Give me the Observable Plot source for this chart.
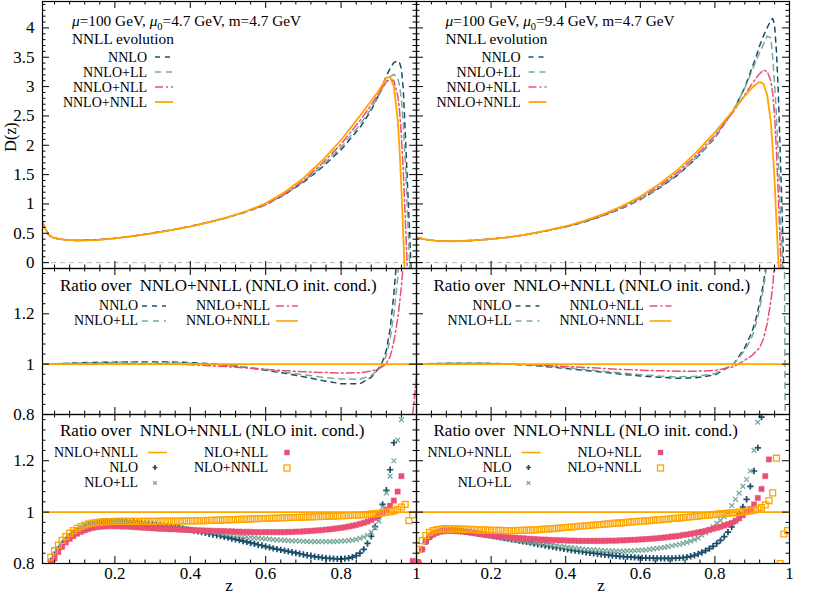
<!DOCTYPE html>
<html><head><meta charset="utf-8">
<script src="https://cdn.jsdelivr.net/npm/d3@7"></script>
<script src="https://cdn.jsdelivr.net/npm/@observablehq/plot@0.6"></script>
<style>
body{margin:0;background:#fff}
#fig{position:relative;width:830px;height:594px;background:#fff;overflow:hidden}
#fig svg{position:absolute;left:0;top:0}
</style></head><body><div id="fig"></div>
<script>
// ---------- DATA ----------
// Top / middle rows: z grids
const ztL = [0.008,0.017,0.025,0.035,0.05,0.07,0.1,0.15,0.2,0.25,0.3,0.35,0.4,0.45,0.5,0.55,0.6,0.65,0.7,0.75,0.8,0.85,0.88,0.9,0.91,0.92,0.93,0.94,0.95,0.955,0.96,0.965,0.97,0.975,0.98,0.985,0.99,1.0];
const ztR = [0,0.01,0.02,0.035,0.05,0.07,0.1,0.15,0.2,0.25,0.3,0.35,0.4,0.45,0.5,0.55,0.6,0.65,0.7,0.75,0.8,0.85,0.88,0.9,0.91,0.92,0.93,0.94,0.95,0.955,0.96,0.965,0.97,0.975,0.98,0.985,0.99,1.0];

// D(z), mu0 = 4.7 GeV
const dL_NNLO      = [0.69,0.56,0.47,0.43,0.406,0.388,0.379,0.388,0.415,0.456,0.505,0.558,0.619,0.692,0.772,0.869,0.986,1.157,1.368,1.627,1.925,2.3,2.6,2.86,3.02,3.18,3.31,3.41,3.44,3.41,3.3,2.95,2.25,1.5,0.75,0.02,-0.8,-1.5];
const dL_NNLO_LL   = [0.69,0.56,0.47,0.43,0.406,0.388,0.379,0.388,0.415,0.455,0.504,0.557,0.618,0.691,0.772,0.87,0.99,1.165,1.38,1.65,1.965,2.35,2.63,2.85,2.97,3.08,3.17,3.21,3.15,3.02,2.78,2.35,1.75,1.0,0.25,-0.6,-1.2,-1.5];
const dL_NNLO_NLL  = [0.69,0.56,0.47,0.43,0.405,0.387,0.378,0.386,0.413,0.453,0.501,0.554,0.616,0.689,0.772,0.873,0.99,1.17,1.4,1.69,2.02,2.42,2.69,2.88,2.99,3.08,3.13,3.1,2.85,2.6,2.15,1.55,0.8,0.0,-0.7,-1.5,-1.5,-1.5];
const dL_NNLO_NNLL = [0.69,0.56,0.47,0.43,0.405,0.387,0.377,0.385,0.412,0.452,0.5,0.553,0.615,0.69,0.775,0.88,1.01,1.2,1.44,1.74,2.09,2.5,2.76,2.93,3.04,3.15,3.16,3.0,2.45,1.95,1.25,0.45,-0.4,-1,-1.5,-1.5,-1.5,-1.5];

// D(z), mu0 = 9.4 GeV
const dR_NNLO      = [0.43,0.415,0.4,0.386,0.375,0.367,0.365,0.379,0.401,0.435,0.483,0.543,0.61,0.693,0.799,0.922,1.072,1.265,1.492,1.778,2.125,2.6,2.98,3.33,3.5,3.7,3.86,4.0,4.13,4.16,4.05,3.6,2.9,1.9,0.9,-0.2,-1,-1.5];
const dR_NNLO_LL   = [0.43,0.415,0.4,0.386,0.375,0.367,0.365,0.379,0.401,0.435,0.484,0.544,0.611,0.695,0.802,0.926,1.078,1.272,1.501,1.79,2.136,2.6,2.97,3.28,3.43,3.58,3.72,3.86,3.83,3.5,3.05,2.5,1.8,1.0,0.2,-0.6,-1.2,-1.5];
const dR_NNLO_NLL  = [0.43,0.415,0.4,0.386,0.375,0.367,0.365,0.379,0.401,0.435,0.484,0.545,0.615,0.7,0.811,0.94,1.098,1.3,1.536,1.827,2.165,2.575,2.86,3.05,3.14,3.22,3.28,3.26,3.1,2.88,2.5,1.9,1.15,0.3,-0.6,-1.2,-1.5,-1.5];
const dR_NNLO_NNLL = [0.43,0.415,0.4,0.385,0.374,0.366,0.364,0.378,0.4,0.435,0.485,0.548,0.62,0.71,0.825,0.96,1.125,1.335,1.58,1.88,2.22,2.6,2.84,2.98,3.04,3.08,3.05,2.86,2.4,1.95,1.4,0.7,0.05,-0.6,-1.2,-1.5,-1.5,-1.5];

// Ratio over NNLO+NNLL (NNLO init. cond.)
const rL_NNLO     = [1.0,1.0,1.0,1.001,1.002,1.003,1.005,1.007,1.008,1.009,1.01,1.009,1.006,1.002,0.996,0.987,0.976,0.964,0.95,0.935,0.922,0.922,0.948,0.985,1.01,1.055,1.14,1.28,1.46,1.6,1.8,2.2,3,3,3,3,3,3];
const rL_NNLO_LL  = [1.0,1.0,1.0,1.001,1.002,1.003,1.004,1.006,1.007,1.008,1.008,1.007,1.004,1.0,0.995,0.988,0.979,0.968,0.958,0.948,0.941,0.94,0.955,0.98,1.0,1.035,1.1,1.2,1.34,1.45,1.6,1.9,3,3,3,3,3,3];
const rL_NNLO_NLL = [1.0,1.0,1.0,1.0,1.0,1.001,1.001,1.002,1.002,1.002,1.002,1.001,0.998,0.994,0.99,0.985,0.979,0.974,0.97,0.967,0.965,0.966,0.972,0.982,0.99,1.003,1.03,1.09,1.18,1.24,1.31,1.4,1.6,2,3,null,0.8,0.95];
const rR_NNLO     = [1.0,1.0,1.001,1.002,1.003,1.003,1.004,1.004,1.003,1.0,0.996,0.99,0.983,0.975,0.968,0.96,0.953,0.948,0.944,0.946,0.957,1.0,1.065,1.13,1.18,1.245,1.32,1.42,1.6,1.8,2.2,3,3,3,3,3,3,3];
const rR_NNLO_LL  = [1.0,1.0,1.001,1.002,1.003,1.003,1.004,1.004,1.003,1.001,0.997,0.992,0.986,0.979,0.972,0.965,0.958,0.953,0.95,0.952,0.962,1.0,1.055,1.11,1.16,1.22,1.3,1.4,1.6,1.9,2.5,4,8,5,5,1.9,0.3,0.3];
const rR_NNLO_NLL = [1.0,1.0,1.0,1.001,1.001,1.002,1.002,1.002,1.002,1.0,0.998,0.995,0.991,0.987,0.983,0.979,0.976,0.974,0.972,0.972,0.975,0.99,1.015,1.035,1.05,1.065,1.1,1.16,1.25,1.31,1.4,1.6,2,3,3,3,3,3];

// Ratio over NNLO+NNLL (NLO init. cond.) — point series
const zPL = [0.03,0.04,0.05,0.06,0.07,0.08,0.09,0.10,0.11,0.12,
 0.13,0.14,0.15,0.16,0.17,0.18,0.19,0.20,0.21,0.22,
 0.23,0.24,0.25,0.26,0.27,0.28,0.29,0.30,0.31,0.32,
 0.33,0.34,0.35,0.36,0.37,0.38,0.39,0.40,0.41,0.42,
 0.43,0.44,0.45,0.46,0.47,0.48,0.49,0.50,0.51,0.52,
 0.53,0.54,0.55,0.56,0.57,0.58,0.59,0.60,0.61,0.62,
 0.63,0.64,0.65,0.66,0.67,0.68,0.69,0.70,0.71,0.72,
 0.73,0.74,0.75,0.76,0.77,0.78,0.79,0.80,0.81,0.82,
 0.83,0.84,0.85,0.86,0.87,0.88,0.89,0.90,0.91,0.92,
 0.93,0.94,0.95,0.96,0.97,0.98,0.99];
const bL_NLO = [0.81,0.835,0.857,0.876,0.892,0.906,0.918,0.928,0.936,0.943,
 0.949,0.954,0.958,0.961,0.963,0.964,0.965,0.965,0.965,0.964,
 0.963,0.962,0.961,0.96,0.958,0.956,0.955,0.953,0.951,0.949,
 0.947,0.945,0.943,0.94,0.938,0.936,0.933,0.931,0.928,0.925,
 0.922,0.919,0.916,0.913,0.91,0.907,0.904,0.901,0.897,0.894,
 0.891,0.887,0.884,0.88,0.877,0.873,0.87,0.866,0.863,0.859,
 0.856,0.853,0.85,0.847,0.844,0.841,0.838,0.835,0.832,0.83,
 0.827,0.825,0.823,0.821,0.82,0.819,0.818,0.818,0.819,0.821,
 0.825,0.831,0.84,0.855,0.878,0.906,0.943,0.985,1.03,1.085,
 1.165,1.27,1.42,1.7,2.2,3,0.5];
const bL_NLO_LL = [0.81,0.835,0.857,0.876,0.892,0.906,0.918,0.928,0.936,0.943,
 0.949,0.953,0.957,0.96,0.961,0.962,0.962,0.962,0.962,0.961,
 0.96,0.959,0.958,0.957,0.955,0.954,0.952,0.951,0.949,0.947,
 0.946,0.944,0.942,0.941,0.939,0.937,0.935,0.933,0.931,0.929,
 0.927,0.925,0.923,0.921,0.919,0.917,0.915,0.913,0.911,0.909,
 0.907,0.905,0.904,0.902,0.9,0.899,0.897,0.896,0.895,0.893,
 0.892,0.891,0.89,0.889,0.888,0.888,0.887,0.886,0.886,0.885,
 0.885,0.885,0.885,0.885,0.885,0.885,0.886,0.887,0.888,0.889,
 0.891,0.894,0.898,0.903,0.91,0.922,0.94,0.965,1.02,1.075,
 1.14,1.2,1.28,1.36,1.6,2.2,0.5];
const bL_NLO_NLL = [0.805,0.82,0.845,0.865,0.882,0.896,0.907,0.916,0.923,0.929,
 0.934,0.938,0.941,0.943,0.944,0.945,0.945,0.945,0.945,0.944,
 0.944,0.943,0.942,0.941,0.94,0.939,0.938,0.937,0.936,0.935,
 0.935,0.934,0.933,0.933,0.932,0.931,0.931,0.93,0.93,0.929,
 0.929,0.928,0.928,0.927,0.927,0.926,0.926,0.925,0.925,0.924,
 0.924,0.923,0.923,0.923,0.922,0.922,0.922,0.922,0.922,0.922,
 0.922,0.922,0.922,0.923,0.923,0.924,0.924,0.925,0.926,0.927,
 0.928,0.929,0.93,0.932,0.933,0.935,0.937,0.939,0.941,0.944,
 0.947,0.95,0.954,0.958,0.963,0.969,0.977,0.987,0.998,1.01,
 1.025,1.045,1.08,1.14,1.45,2.0,0.81];
const bL_NLO_NNLL = [0.825,0.85,0.872,0.89,0.905,0.918,0.928,0.937,0.944,0.95,
 0.954,0.957,0.959,0.961,0.962,0.963,0.963,0.964,0.964,0.964,
 0.964,0.964,0.964,0.964,0.964,0.964,0.964,0.964,0.964,0.965,
 0.965,0.965,0.965,0.965,0.965,0.966,0.966,0.966,0.966,0.967,
 0.967,0.967,0.968,0.968,0.969,0.969,0.97,0.97,0.971,0.971,
 0.972,0.972,0.973,0.973,0.974,0.974,0.975,0.975,0.976,0.976,
 0.977,0.977,0.978,0.978,0.979,0.979,0.98,0.98,0.981,0.981,
 0.982,0.982,0.983,0.983,0.984,0.984,0.985,0.986,0.986,0.987,
 0.988,0.988,0.989,0.99,0.991,0.992,0.994,0.995,0.997,1.0,
 1.002,1.005,1.01,1.02,1.03,0.967,0.99];

const zPR = [0.005,0.015,0.025,0.035,0.045,0.055,0.065,0.075,0.085,0.095,
 0.105,0.115,0.125,0.135,0.145,0.155,0.165,0.175,0.185,0.195,
 0.205,0.215,0.225,0.235,0.245,0.255,0.265,0.275,0.285,0.295,
 0.305,0.315,0.325,0.335,0.345,0.355,0.365,0.375,0.385,0.395,
 0.405,0.415,0.425,0.435,0.445,0.455,0.465,0.475,0.485,0.495,
 0.505,0.515,0.525,0.535,0.545,0.555,0.565,0.575,0.585,0.595,
 0.605,0.615,0.625,0.635,0.645,0.655,0.665,0.675,0.685,0.695,
 0.705,0.715,0.725,0.735,0.745,0.755,0.765,0.775,0.785,0.795,
 0.805,0.815,0.825,0.835,0.845,0.855,0.865,0.875,0.885,0.895,
 0.905,0.915,0.925,0.935,0.945,0.955,0.965,0.975,0.985,0.995];
const bR_NLO = [0.805,0.855,0.885,0.903,0.914,0.921,0.926,0.929,0.93,0.93,
 0.929,0.928,0.926,0.924,0.922,0.92,0.917,0.915,0.912,0.91,
 0.907,0.905,0.902,0.9,0.897,0.894,0.892,0.889,0.886,0.884,
 0.881,0.878,0.875,0.873,0.87,0.867,0.865,0.862,0.86,0.857,
 0.855,0.852,0.85,0.848,0.846,0.844,0.842,0.84,0.838,0.836,
 0.834,0.833,0.831,0.83,0.828,0.827,0.826,0.825,0.824,0.823,
 0.822,0.822,0.821,0.821,0.82,0.82,0.82,0.82,0.82,0.821,
 0.822,0.823,0.825,0.828,0.832,0.837,0.843,0.85,0.858,0.867,
 0.878,0.89,0.905,0.922,0.942,0.965,0.993,1.02,1.05,1.1,
 1.16,1.25,1.37,1.6,2,2.5,3,0.5,0.5,0.5];
const bR_NLO_LL = [0.805,0.855,0.885,0.903,0.914,0.921,0.926,0.929,0.93,0.93,
 0.929,0.927,0.925,0.923,0.921,0.918,0.916,0.913,0.911,0.908,
 0.906,0.903,0.901,0.898,0.896,0.894,0.891,0.889,0.887,0.885,
 0.883,0.881,0.879,0.877,0.875,0.873,0.871,0.869,0.867,0.865,
 0.863,0.862,0.86,0.858,0.856,0.855,0.854,0.853,0.852,0.851,
 0.85,0.849,0.849,0.848,0.848,0.848,0.849,0.849,0.85,0.851,
 0.852,0.853,0.855,0.857,0.859,0.861,0.863,0.866,0.869,0.872,
 0.875,0.878,0.882,0.887,0.893,0.9,0.91,0.92,0.932,0.944,
 0.956,0.968,0.982,1.0,1.025,1.05,1.074,1.1,1.127,1.16,
 1.24,1.35,1.5,1.8,2.2,2.5,3,3,0.5,0.5];
const bR_NLO_NLL = [0.805,0.855,0.885,0.903,0.913,0.92,0.924,0.926,0.927,0.927,
 0.926,0.925,0.924,0.922,0.92,0.918,0.916,0.914,0.912,0.91,
 0.909,0.907,0.905,0.904,0.902,0.901,0.9,0.899,0.898,0.897,
 0.896,0.895,0.894,0.893,0.893,0.892,0.891,0.891,0.89,0.89,
 0.889,0.889,0.889,0.888,0.888,0.888,0.888,0.888,0.888,0.888,
 0.888,0.889,0.889,0.889,0.89,0.89,0.891,0.892,0.892,0.893,
 0.894,0.895,0.896,0.897,0.898,0.9,0.901,0.903,0.905,0.906,
 0.908,0.911,0.913,0.915,0.918,0.921,0.924,0.927,0.931,0.935,
 0.939,0.943,0.948,0.953,0.958,0.966,0.976,0.988,1.0,1.012,
 1.03,1.055,1.09,1.14,1.205,1.45,1.8,2.2,0.6,0.7];
const bR_NLO_NNLL = [0.855,0.889,0.909,0.921,0.928,0.932,0.934,0.935,0.935,0.935,
 0.935,0.934,0.934,0.933,0.933,0.932,0.931,0.931,0.93,0.93,
 0.929,0.929,0.929,0.928,0.928,0.928,0.928,0.929,0.929,0.93,
 0.93,0.931,0.932,0.933,0.934,0.935,0.936,0.937,0.938,0.94,
 0.941,0.942,0.943,0.945,0.946,0.947,0.948,0.95,0.951,0.952,
 0.953,0.954,0.956,0.957,0.958,0.959,0.96,0.962,0.963,0.964,
 0.965,0.966,0.967,0.969,0.97,0.971,0.972,0.973,0.975,0.976,
 0.977,0.978,0.98,0.981,0.983,0.984,0.986,0.987,0.989,0.99,
 0.992,0.993,0.994,0.996,0.997,0.998,1.0,1.001,1.003,1.005,
 1.008,1.012,1.018,1.028,1.045,1.075,1.21,0.8,0.915,0.928];

// Tick labels
const yTicksTop = [0,0.5,1,1.5,2,2.5,3,3.5,4];
const yTicksRatio = [0.8,1,1.2];
const xTicks = [0,0.2,0.4,0.6,0.8,1];
const xTickLabels = [0.2,0.4,0.6,0.8,1];

// ---------- STYLE / LAYOUT ----------
const FONT = '"Liberation Serif","Times New Roman",serif';
const C = {nnlo:"#1b4d6b", ll:"#7aa99a", nll:"#ea4f74", nnll:"#ffa500"};
const DASH = {nnlo:"5,5", ll:"6,5", nll:"8,3,2,3", nnll:null};
const W = 830, H = 594;
const LX = [42,416], RX = [416,789];
const TY = [1,268], MY = [268,414], BY = [414,563];
const xdL = [0.008,1], xdR = [0,1];
const ydT = [-0.1,4.45], ydR = [0.8,1.38];

const fig = document.getElementById("fig");
const zip = (zs, vs) => zs.map((z,i) => ({z, v: vs[i]}));
const notMult = (v, s) => Math.abs(v/s - Math.round(v/s)) > 1e-6;
const yMinorTop = d3.range(-0.1, 4.46, 0.1).map(v => +v.toFixed(3)).filter(v => notMult(v, 0.5));
const yMinorRatio = d3.range(0.8, 1.39, 0.04).map(v => +v.toFixed(3)).filter(v => notMult(v, 0.2));
const xMinor = d3.range(0, 1.001, 0.04).map(v => +v.toFixed(3)).filter(v => notMult(v, 0.2));

function panel(o) {
  const [fx0, fx1] = o.fx, [fy0, fy1] = o.fy;
  const [x0, x1] = o.xd, [y0, y1] = o.yd;
  const ux = (x1-x0)/(fx1-fx0), uy = (y1-y0)/(fy1-fy0);
  const inX = v => v > x0+1e-9 && v < x1-1e-9;
  const inY = v => v > y0+1e-9 && v < y1-1e-9;
  const tk = {stroke:"#000", strokeWidth:1};
  const marks = [...o.marks];
  for (const [arr, len] of [[o.yMaj,7],[o.yMin,3.5]]) {
    const a = arr.filter(inY);
    marks.push(Plot.ruleY(a, {y:d=>d, x1:x0, x2:x0+len*ux, ...tk}));
    marks.push(Plot.ruleY(a, {y:d=>d, x1:x1-len*ux, x2:x1, ...tk}));
  }
  for (const [arr, len] of [[xTicks,7],[xMinor,3.5]]) {
    const a = arr.filter(inX);
    marks.push(Plot.ruleX(a, {x:d=>d, y1:y0, y2:y0+len*uy, ...tk}));
    marks.push(Plot.ruleX(a, {x:d=>d, y1:y1-len*uy, y2:y1, ...tk}));
  }
  marks.push(Plot.frame({stroke:"#000", strokeWidth:1.2}));
  if (o.yLab) marks.push(Plot.axisY(o.yLab, {anchor:"left", tickSize:0, tickPadding:8, tickFormat:d=>String(d), label:null}));
  if (o.xLab) marks.push(Plot.axisX(o.xLab, {anchor:"bottom", tickSize:0, tickPadding:3, tickFormat:d=>String(d), label:null}));
  const svg = Plot.plot({
    width: W, height: H,
    marginLeft: fx0, marginRight: W-fx1, marginTop: fy0, marginBottom: H-fy1,
    x: {domain: o.xd, axis: null}, y: {domain: o.yd, axis: null},
    style: {background:"transparent", fontFamily: FONT, fontSize:"17px", color:"#000"},
    marks
  });
  fig.appendChild(svg);
}

const lineMark = (zs, vs, key, w=1.5) => Plot.line(zip(zs, vs), {x:"z", y:"v", stroke:C[key], strokeWidth:w, strokeDasharray:DASH[key], clip:true});

function topMarks(zs, a, b, c, d) {
  return [
    Plot.ruleY([0], {stroke:"#b8b8b8", strokeWidth:1, strokeDasharray:"5,4"}),
    lineMark(zs, a, "nnlo"), lineMark(zs, b, "ll"), lineMark(zs, c, "nll"), lineMark(zs, d, "nnll", 1.8)
  ];
}
function midMarks(zs, a, b, c) {
  return [
    lineMark(zs, a, "nnlo"), lineMark(zs, b, "ll"), lineMark(zs, c, "nll"),
    Plot.ruleY([1], {stroke:C.nnll, strokeWidth:1.6})
  ];
}
function botMarks(zs, nlo, ll, nll, nnll) {
  return [
    Plot.ruleY([1], {stroke:C.nnll, strokeWidth:1.6}),
    Plot.dot(zip(zs, nlo), {x:"z", y:"v", symbol:"plus", r:2.2, stroke:C.nnlo, strokeWidth:1.7, clip:true}),
    Plot.dot(zip(zs, ll), {x:"z", y:"v", symbol:"times", r:2.3, stroke:C.ll, strokeWidth:1.3, clip:true}),
    Plot.dot(zip(zs, nll), {x:"z", y:"v", symbol:"square", r:3.0, fill:C.nll, stroke:C.nll, strokeWidth:0.4, clip:true}),
    Plot.dot(zip(zs, nnll), {x:"z", y:"v", symbol:"square", r:3.3, fill:"none", stroke:C.nnll, strokeWidth:1.3, clip:true})
  ];
}

panel({fx:LX, fy:TY, xd:xdL, yd:ydT, yMaj:yTicksTop, yMin:yMinorTop, yLab:yTicksTop,
  marks: topMarks(ztL, dL_NNLO, dL_NNLO_LL, dL_NNLO_NLL, dL_NNLO_NNLL)});
panel({fx:RX, fy:TY, xd:xdR, yd:ydT, yMaj:yTicksTop, yMin:yMinorTop,
  marks: topMarks(ztR, dR_NNLO, dR_NNLO_LL, dR_NNLO_NLL, dR_NNLO_NNLL)});
panel({fx:LX, fy:MY, xd:xdL, yd:ydR, yMaj:yTicksRatio, yMin:yMinorRatio, yLab:yTicksRatio,
  marks: midMarks(ztL, rL_NNLO, rL_NNLO_LL, rL_NNLO_NLL)});
panel({fx:RX, fy:MY, xd:xdR, yd:ydR, yMaj:yTicksRatio, yMin:yMinorRatio,
  marks: midMarks(ztR, rR_NNLO, rR_NNLO_LL, rR_NNLO_NLL)});
panel({fx:LX, fy:BY, xd:xdL, yd:ydR, yMaj:yTicksRatio, yMin:yMinorRatio, yLab:yTicksRatio, xLab:xTickLabels,
  marks: botMarks(zPL, bL_NLO, bL_NLO_LL, bL_NLO_NLL, bL_NLO_NNLL)});
panel({fx:RX, fy:BY, xd:xdR, yd:ydR, yMaj:yTicksRatio, yMin:yMinorRatio, xLab:xTickLabels,
  marks: botMarks(zPR, bR_NLO, bR_NLO_LL, bR_NLO_NLL, bR_NLO_NNLL)});

// ---------- TEXT / LEGENDS (overlay) ----------
const mu0s = ["4.7","9.4"];
const topLeg = [["NNLO","nnlo"],["NNLO+LL","ll"],["NNLO+NLL","nll"],["NNLO+NNLL","nnll"]];
let s = "";
const sample = (x1, x2, y, key, w=1.5) =>
  `<line x1="${x1}" x2="${x2}" y1="${y}" y2="${y}" stroke="${C[key]}" stroke-width="${w}" ${DASH[key] ? `stroke-dasharray="${DASH[key]}"` : ""}/>`;
[0, 373.5].forEach((ox, p) => {
  s += `<text x="${72+ox}" y="26" font-size="15.3"><tspan font-style="italic">μ</tspan>=100 GeV, <tspan font-style="italic">μ</tspan><tspan font-size="10.5" dy="3.5">0</tspan><tspan dy="-3.5">=${mu0s[p]} GeV, m=4.7 GeV</tspan></text>`;
  s += `<text x="${72+ox}" y="44.3" font-size="15.3">NNLL evolution</text>`;
  topLeg.forEach(([lab, key], i) => {
    s += `<text x="${147+ox}" y="${61.5+15*i}" text-anchor="end">${lab}</text>`;
    s += sample(155+ox, 173+ox, 57+15*i, key, key==="nnll" ? 1.8 : 1.5);
  });
  // middle
  s += `<text x="${60+ox}" y="290.5" font-size="17">Ratio over&#160; NNLO+NNLL (NNLO init. cond.)</text>`;
  [["NNLO","nnlo"],["NNLO+LL","ll"]].forEach(([lab,key],i) => {
    s += `<text x="${138+ox}" y="${310+15*i}" text-anchor="end">${lab}</text>`;
    s += sample(142+ox, 166+ox, 306+15*i, key);
  });
  [["NNLO+NLL","nll"],["NNLO+NNLL","nnll"]].forEach(([lab,key],i) => {
    s += `<text x="${270+ox}" y="${310+15*i}" text-anchor="end">${lab}</text>`;
    s += sample(276+ox, 298+ox, 306+15*i, key, key==="nnll" ? 1.6 : 1.5);
  });
  // bottom
  s += `<text x="${60+ox}" y="436" font-size="17">Ratio over&#160; NNLO+NNLL (NLO init. cond.)</text>`;
  s += `<text x="${138+ox}" y="457" text-anchor="end">NNLO+NNLL</text>` + sample(148+ox, 167+ox, 452.5, "nnll", 1.6);
  s += `<text x="${138+ox}" y="472" text-anchor="end">NLO</text>`;
  s += `<path d="M${152.6+ox},467.5H${157.4+ox}M${155+ox},465.1V469.9" stroke="${C.nnlo}" stroke-width="1.7"/>`;
  s += `<text x="${138+ox}" y="487" text-anchor="end">NLO+LL</text>`;
  s += `<path d="M${153.2+ox},481.2L${156.8+ox},484.8M${156.8+ox},481.2L${153.2+ox},484.8" stroke="${C.ll}" stroke-width="1.3"/>`;
  s += `<text x="${268+ox}" y="457" text-anchor="end">NLO+NLL</text>`;
  s += `<rect x="${284.3+ox}" y="449.8" width="5.4" height="5.4" fill="${C.nll}"/>`;
  s += `<text x="${268+ox}" y="472" text-anchor="end">NLO+NNLL</text>`;
  s += `<rect x="${284+ox}" y="465" width="6" height="6" fill="none" stroke="${C.nnll}" stroke-width="1.3"/>`;
});
s += `<text transform="translate(15.5,137) rotate(-90)" text-anchor="middle" font-size="16">D(z)</text>`;
s += `<text x="229" y="591" text-anchor="middle" font-size="17">z</text>`;
s += `<text x="601" y="591" text-anchor="middle" font-size="17">z</text>`;
const ov = document.createElementNS("http://www.w3.org/2000/svg", "svg");
ov.setAttribute("width", W); ov.setAttribute("height", H);
ov.setAttribute("font-family", FONT); ov.setAttribute("font-size", "14");
ov.setAttribute("style", "white-space:pre");
ov.innerHTML = s;
fig.appendChild(ov);
</script></body></html>
